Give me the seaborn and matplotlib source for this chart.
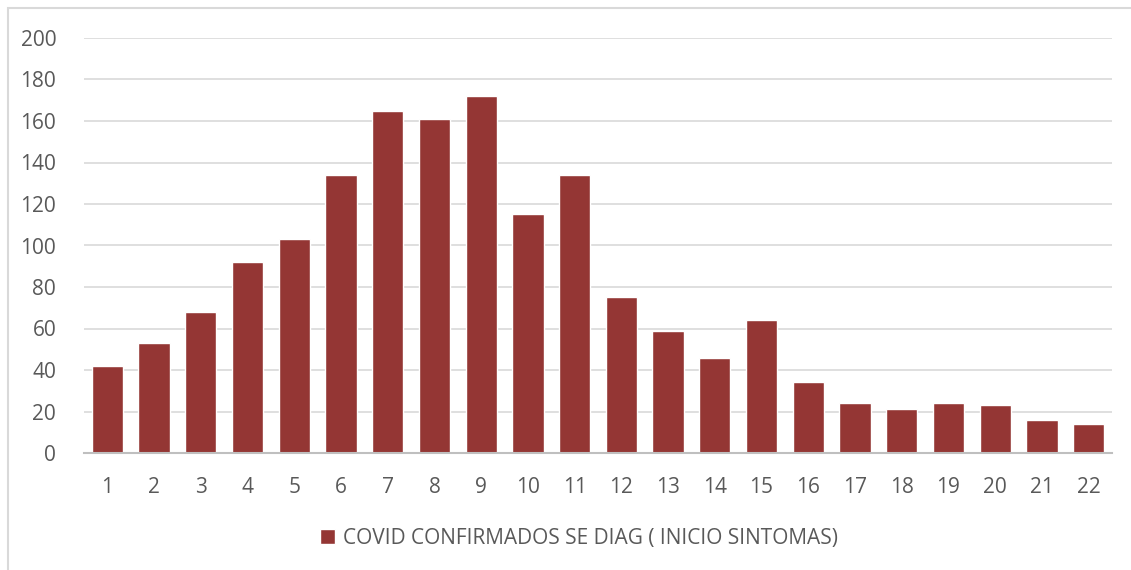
import matplotlib
matplotlib.use("Agg")
import matplotlib.pyplot as plt
import seaborn as sns
import pandas as pd
from matplotlib.patches import Rectangle

# ---------- Data ----------
weeks = [str(i) for i in range(1, 23)]
cases = [42, 53, 68, 92, 103, 134, 165, 161, 172, 115, 134,
         75, 59, 46, 64, 34, 24, 21, 24, 23, 16, 14]
label = "COVID CONFIRMADOS SE DIAG ( INICIO SINTOMAS)"

df = pd.DataFrame({"semana": weeks, "casos": cases, "serie": label})

sns.set_style("white")
plt.rcParams["font.family"] = ["Open Sans", "DejaVu Sans"]

text_color = "#595959"
bar_color = "#943634"

fig = plt.figure(figsize=(11.31, 5.70), dpi=100)
ax = fig.add_axes([84 / 1131, 117 / 570, 1028 / 1131, 415 / 570])

sns.barplot(data=df, x="semana", y="casos", hue="serie",
            palette=[bar_color], width=0.67, ax=ax, saturation=1)

ax.set_ylim(0, 200)
ax.set_yticks(range(0, 201, 20))
ax.set_xlim(-0.5, len(weeks) - 0.5)
ax.grid(axis="y", color="#d9d9d9", linewidth=1.2)
ax.set_axisbelow(True)
for s in ["top", "right", "left"]:
    ax.spines[s].set_visible(False)
ax.spines["bottom"].set_color("#bfbfbf")
ax.spines["bottom"].set_linewidth(1.5)
ax.tick_params(axis="both", length=0, labelsize=15, colors=text_color)
ax.tick_params(axis="y", pad=20)
ax.tick_params(axis="x", pad=17)
ax.set_xlabel("")
ax.set_ylabel("")

leg = ax.legend(loc="center", bbox_to_anchor=(0.4815, -0.205), frameon=False,
                fontsize=15, handlelength=0.7, handleheight=0.7,
                handletextpad=0.4)
for t in leg.get_texts():
    t.set_color(text_color)

# light chart-area border
fig.patches.append(Rectangle((8 / 1131, -0.1), 1.2, (562 / 570) + 0.1,
                             transform=fig.transFigure, fill=False,
                             edgecolor="#d9d9d9", linewidth=1.5))

fig.savefig("out.png", dpi=100)
